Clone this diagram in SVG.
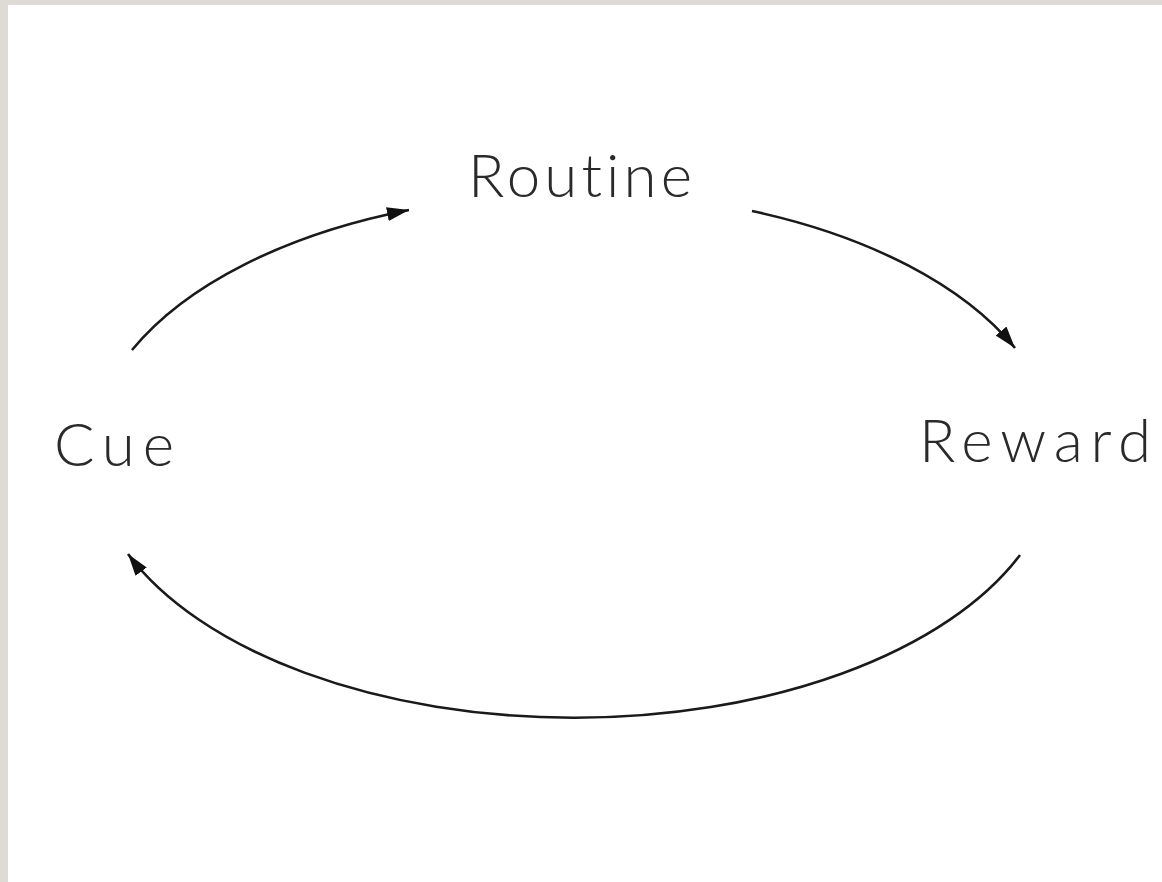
<svg xmlns="http://www.w3.org/2000/svg" width="1162" height="882" viewBox="0 0 1162 882">
<style>
.lbl{font-family:"Lato","Liberation Sans",sans-serif;font-weight:300;font-size:60px;fill:#2a2a2a;font-variant-ligatures:none;font-feature-settings:"liga" 0,"clig" 0}
.arc{fill:none;stroke:#1a1a1a;stroke-width:2.6}
</style>
<defs>
<marker id="ah" markerUnits="userSpaceOnUse" markerWidth="24" markerHeight="16" refX="22" refY="7" orient="auto">
<path d="M0,0 L22,7 L0,14 z" fill="#111"/>
</marker>
</defs>
<rect x="0" y="0" width="1162" height="882" fill="#dedbd6"/>
<rect x="8" y="5" width="1154" height="877" fill="#ffffff"/>
<g id="connectors">
<path class="arc" d="M132,350 A482,263 0 0 1 409,210" marker-end="url(#ah)"/>
<path class="arc" d="M752,211 A482,263 0 0 1 1015,348" marker-end="url(#ah)"/>
<path class="arc" d="M1020,555 A482,263 0 0 1 128,554" marker-end="url(#ah)"/>
</g>
<g id="routine"><text class="lbl" x="468" y="197" textLength="224" lengthAdjust="spacing">Routine</text></g>
<g id="cue"><text class="lbl" x="54" y="466" textLength="120" lengthAdjust="spacing">Cue</text></g>
<g id="reward"><text class="lbl" x="919" y="462" textLength="232" lengthAdjust="spacing">Reward</text></g>
</svg>
